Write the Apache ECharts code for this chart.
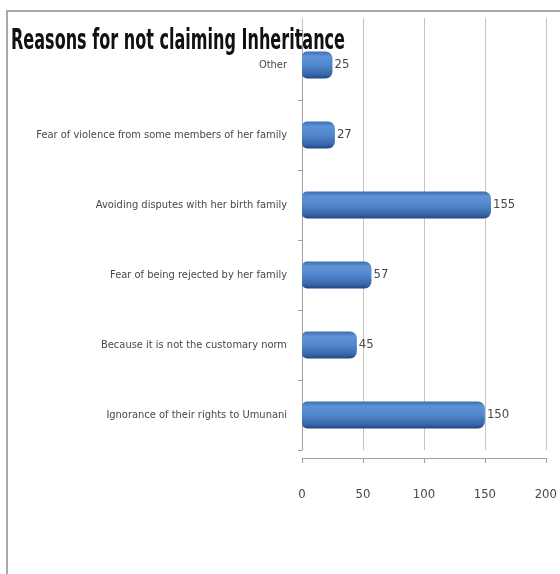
<!DOCTYPE html>
<html>
<head>
<meta charset="utf-8">
<script src="https://cdn.jsdelivr.net/npm/echarts@6/dist/echarts.min.js"></script>
<style>
  html, body { margin: 0; padding: 0; background: #fff; }
  #chart { width: 560px; height: 574px; }
</style>
</head>
<body>
<div id="chart"></div>
<script>
// data, top to bottom as drawn
const reasons = [
  'Other',
  'Fear of violence from some members of her family',
  'Avoiding disputes with her birth family',
  'Fear of being rejected by her family',
  'Because it is not the customary norm',
  'Ignorance of their rights to Umunani'
];
const counts = [25, 27, 155, 57, 45, 150];
const valueTicks = [0, 50, 100, 150, 200];
const titleText = 'Reasons for not claiming Inheritance';

const narrow = "'Liberation Sans Narrow', 'DejaVu Sans Condensed', sans-serif";
const textColor = '#484848';
const gridColor = '#c4c4c4';

// the original title is a tall, very narrow font: squeeze a bigger one to the same width
const titleFont = 'bold 29px ' + narrow;
let ctx = document.createElement('canvas').getContext('2d');
ctx.font = titleFont;
const titleScale = 334 / ctx.measureText(titleText).width;

let myChart = echarts.init(document.getElementById('chart'));

let barColor = new echarts.graphic.LinearGradient(0, 0, 0, 1, [
  { offset: 0, color: '#3c6cad' },
  { offset: 0.18, color: '#5e93d6' },
  { offset: 0.5, color: '#5187cd' },
  { offset: 0.85, color: '#3866a8' },
  { offset: 1, color: '#1f4580' }
]);

let option = {
  backgroundColor: '#fff',
  animation: false,
  graphic: [{
    // chart frame (only top / left are visible in the original)
    type: 'rect',
    silent: true,
    shape: { x: 7, y: 11, width: 700, height: 700 },
    style: { fill: 'none', stroke: '#a8a8a8', lineWidth: 2 }
  }, {
    type: 'text',
    silent: true,
    x: 11,
    y: 27,
    scaleX: titleScale,
    z: 10,
    style: {
      text: titleText,
      font: titleFont,
      fill: '#111'
    }
  }],
  grid: [
    { left: 302, right: 14, top: 30, bottom: 124 },   // bars
    { left: 302, right: 14, top: 18, bottom: 124 }    // back wall lines
  ],
  xAxis: [{
    type: 'value',
    gridIndex: 0,
    min: valueTicks[0],
    max: valueTicks[valueTicks.length - 1],
    interval: 50,
    offset: 8,
    axisLine: { show: true, lineStyle: { color: '#a0a0a0' } },
    axisTick: { show: true, length: 5, lineStyle: { color: '#a0a0a0' } },
    splitLine: { show: false },
    axisLabel: {
      margin: 30,
      color: textColor,
      fontFamily: narrow,
      fontSize: 13
    }
  }, {
    type: 'value',
    gridIndex: 1,
    min: valueTicks[0],
    max: valueTicks[valueTicks.length - 1],
    interval: 50,
    axisLine: { show: false },
    axisTick: { show: false },
    axisLabel: { show: false },
    splitLine: { show: true, lineStyle: { color: gridColor, width: 1 } }
  }],
  yAxis: [{
    type: 'category',
    gridIndex: 0,
    inverse: true,
    data: reasons,
    offset: 6,
    axisLine: { show: true, lineStyle: { color: '#a0a0a0' } },
    axisTick: { show: true, length: 4, lineStyle: { color: '#a0a0a0' } },
    axisLabel: {
      margin: 9,
      color: textColor,
      fontFamily: narrow,
      fontSize: 11
    }
  }, {
    type: 'value',
    gridIndex: 1,
    show: false
  }],
  series: [{
    name: 'Reasons',
    type: 'bar',
    xAxisIndex: 0,
    yAxisIndex: 0,
    data: counts,
    barWidth: 27,
    itemStyle: {
      color: barColor,
      borderRadius: [5, 7, 7, 5]
    },
    label: {
      show: true,
      position: 'right',
      distance: 2,
      color: textColor,
      fontFamily: narrow,
      fontSize: 13
    }
  }]
};

myChart.setOption(option);
</script>
</body>
</html>
